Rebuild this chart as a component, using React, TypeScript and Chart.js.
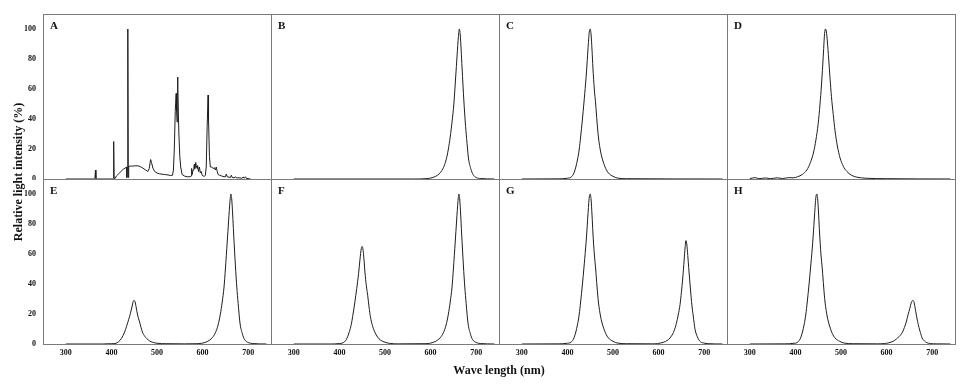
import React, { useEffect, useRef } from "react";
import { Chart, registerables } from "chart.js";

Chart.register(...registerables);

const X_TICKS = [300, 400, 500, 600, 700];
const Y_TICKS = [0, 20, 40, 60, 80, 100];
const X_MIN = 250;
const X_MAX = 750;
const Y_MIN = 0;
const Y_MAX = 110;
const PANEL_LABELS = ["A", "B", "C", "D", "E", "F", "G", "H"];
const Y_TITLE = "Relative light intensity (%)";
const X_TITLE = "Wave length (nm)";

type Pt = [number, number];

const SPEC_A: Pt[] = [
  [300, 0], [362, 0], [364, 0.5], [365, 6], [366, 0.5], [368, 0], [402, 0], [404, 0.5], [405, 25], [406, 0.5],
  [408, 0.3], [411, 2], [416, 3.5], [421, 5], [426, 6.5], [431, 7.5], [433, 8], [434, 1], [435, 8], [436, 100],
  [437, 1], [438, 8.5], [442, 8.6], [447, 8.6], [452, 8.8], [458, 8.8], [463, 8.3], [469, 7.3], [474, 6.2],
  [480, 5], [483, 7], [486, 13], [488, 11], [491, 7.3], [495, 5], [500, 4], [505, 3.5], [511, 3.2], [517, 3],
  [524, 2.7], [530, 2.3], [534, 2.5], [536, 6], [538, 20], [540, 45], [542, 57], [543, 45], [544, 38], [545, 68],
  [546, 60], [548, 30], [550, 15], [552, 8], [555, 3], [560, 2], [566, 1.5], [572, 1.5], [575, 2], [576, 7],
  [577, 3], [579, 6], [581, 8], [582, 10], [583, 7], [585, 11], [586, 9], [588, 7], [589, 9], [591, 5], [593, 8],
  [595, 4], [597, 5], [599, 2.5], [601, 2], [604, 1.8], [606, 2.5], [608, 8], [610, 35], [612, 56], [613, 40],
  [615, 15], [617, 8], [620, 8], [623, 7], [626, 7.5], [628, 6], [630, 8], [632, 5], [634, 3], [637, 2.5],
  [642, 2], [647, 1.5], [650, 1.5], [652, 3.3], [654, 1.5], [658, 1.2], [661, 1], [663, 2.5], [665, 1],
  [669, 0.8], [672, 1.5], [674, 0.7], [680, 0.8], [686, 0.5], [689, 1.3], [691, 0.5], [694, 1.5], [696, 0.4],
  [700, 0.3], [705, 0],
];

const SPEC_B: Pt[] = [
  [300, 0], [560, 0], [590, 0.2], [605, 1], [615, 2.5], [622, 4.5], [628, 7.5], [634, 12.7], [639, 20],
  [643, 28], [647, 38], [651, 50], [655, 68], [658, 82], [661, 95], [663, 100], [665, 96], [667, 86], [669, 74],
  [673, 52], [676, 38], [679, 27], [683, 14], [688, 7], [693, 3], [700, 1], [710, 0.3], [740, 0],
];

const SPEC_C: Pt[] = [
  [300, 0], [380, 0.1], [400, 0.5], [408, 1.2], [415, 4.5], [422, 12.7], [426, 20], [429, 28], [433, 40],
  [436, 50], [440, 64], [442, 72], [445, 86], [448, 98], [450, 100], [452, 96], [454, 86], [456, 74], [459, 60],
  [462, 50], [465, 38], [468, 28], [473, 18], [478, 12], [484, 7], [490, 4], [500, 1.8], [510, 0.6], [530, 0.2],
  [740, 0],
];

const SPEC_D: Pt[] = [
  [300, 0.3], [312, 0.9], [320, 0.2], [335, 0.7], [345, 0.2], [360, 0.8], [372, 0.3], [385, 0.9], [395, 0.8],
  [405, 1.5], [415, 3], [425, 6], [433, 11], [440, 18], [445, 26], [450, 37], [454, 50], [457, 62], [460, 76],
  [462, 87], [464, 97], [466, 100], [468, 98], [470, 92], [473, 80], [476, 67], [479, 55], [483, 43], [487, 32],
  [492, 22], [498, 14], [505, 8.5], [513, 5], [523, 2.5], [535, 1.2], [555, 0.5], [600, 0.2], [740, 0],
];

const SPEC_E: Pt[] = [
  [300, 0], [380, 0], [400, 0.2], [410, 0.5], [415, 1.3], [422, 3.7], [429, 8], [433, 11.5], [436, 14.5],
  [440, 18.5], [443, 22], [446, 26], [448, 28.5], [450, 29], [452, 28], [454, 25], [456, 21.5], [459, 17.5],
  [462, 14.5], [465, 11], [468, 8], [473, 5.2], [478, 3.5], [484, 2], [490, 1.2], [500, 0.5], [520, 0.2],
  [560, 0.1], [590, 0.2], [605, 1], [615, 2.5], [622, 4.5], [628, 7.5], [634, 12.7], [639, 20], [643, 28],
  [647, 38], [650, 50], [654, 68], [657, 82], [660, 95], [662, 100], [664, 96], [666, 86], [668, 74], [672, 52],
  [675, 38], [678, 27], [682, 14], [687, 7], [692, 3], [700, 1], [710, 0.3], [740, 0],
];

const SPEC_F: Pt[] = [
  [300, 0], [380, 0], [400, 0.3], [408, 0.8], [415, 2.9], [422, 8.3], [426, 13], [429, 18.2], [433, 26],
  [436, 32.5], [440, 41.6], [442, 46.8], [445, 56], [448, 63.7], [450, 65], [452, 62.4], [454, 56], [456, 48],
  [459, 39], [462, 32.5], [465, 24.7], [468, 18.2], [473, 11.7], [478, 7.8], [484, 4.5], [490, 2.6], [500, 1.2],
  [510, 0.4], [530, 0.1], [590, 0.2], [605, 1], [615, 2.5], [622, 4.5], [628, 7.5], [634, 12.7], [639, 20],
  [643, 28], [647, 38], [650, 50], [654, 68], [657, 82], [660, 95], [662, 100], [664, 96], [666, 86], [668, 74],
  [672, 52], [675, 38], [678, 27], [682, 14], [687, 7], [692, 3], [700, 1], [710, 0.3], [740, 0],
];

const SPEC_G: Pt[] = [
  [300, 0], [380, 0.1], [400, 0.5], [408, 1.2], [415, 4.5], [422, 12.7], [426, 20], [429, 28], [433, 40],
  [436, 50], [440, 64], [442, 72], [445, 86], [448, 98], [450, 100], [452, 96], [454, 86], [456, 74], [459, 60],
  [462, 50], [465, 38], [468, 28], [473, 18], [478, 12], [484, 7], [490, 4], [500, 1.8], [510, 0.6], [530, 0.2],
  [590, 0.1], [605, 0.7], [615, 1.7], [622, 3.1], [628, 5.2], [634, 8.8], [639, 13.8], [643, 19.3], [647, 26.2],
  [650, 34.5], [653, 44], [656, 56], [658, 64], [660, 69], [662, 66], [664, 59], [666, 51], [670, 36],
  [673, 26], [676, 18.6], [680, 9.7], [685, 4.8], [690, 2], [698, 0.7], [710, 0.2], [740, 0],
];

const SPEC_H: Pt[] = [
  [300, 0], [377, 0.1], [397, 0.5], [405, 1.2], [412, 4.5], [419, 12.7], [423, 20], [426, 28], [430, 40],
  [433, 50], [437, 64], [439, 72], [442, 86], [445, 98], [447, 100], [449, 96], [451, 86], [453, 74], [456, 60],
  [459, 50], [462, 38], [465, 28], [470, 18], [475, 12], [481, 7], [487, 4], [497, 1.8], [507, 0.6], [527, 0.2],
  [580, 0.1], [595, 0.3], [605, 0.8], [612, 1.5], [618, 2.5], [624, 4], [630, 5.8], [635, 8], [639, 11],
  [643, 14.5], [647, 19.5], [651, 23.8], [654, 27.5], [656, 28.7], [658, 29], [660, 28], [662, 25], [664, 21.5],
  [668, 15], [671, 11], [674, 7.8], [678, 4], [683, 2], [688, 0.9], [696, 0.3], [710, 0.1], [740, 0],
];

const SPECTRA: Pt[][] = [SPEC_A, SPEC_B, SPEC_C, SPEC_D, SPEC_E, SPEC_F, SPEC_G, SPEC_H];

// layout (page pixels)
const COL_LEFT = [43, 271, 499, 727];
const ROW_TOP = [14, 179];
const PW = 228;
const PH = 165;
const YW = 36;
const XH = 26;
const FONT = "'Liberation Serif', 'Times New Roman', Times, serif";
const BORDER = "#7a7a7a";
const LINE = "#1e1e1e";

const boxPlugin = {
  id: "panelBox",
  beforeDatasetsDraw(chart: any) {
    const { ctx, chartArea: a } = chart;
    ctx.save();
    ctx.strokeStyle = BORDER;
    ctx.lineWidth = 1;
    ctx.strokeRect(
      Math.round(a.left) + 0.5,
      Math.round(a.top) + 0.5,
      Math.round(a.right - a.left),
      Math.round(a.bottom - a.top)
    );
    ctx.restore();
  },
};

function Panel({ idx }: { idx: number }) {
  const ref = useRef<HTMLCanvasElement | null>(null);
  const col = idx % 4;
  const row = Math.floor(idx / 4);
  const showY = col === 0;
  const showX = row === 1;
  const left = COL_LEFT[col] - (showY ? YW : 0);
  const top = ROW_TOP[row];
  const width = PW + 1 + (showY ? YW : 0);
  const height = PH + (showX ? XH : 1);

  useEffect(() => {
    if (!ref.current) return;
    const pts = SPECTRA[idx].map(([x, y]) => ({ x, y }));
    const chart = new Chart(ref.current, {
      type: "line",
      data: {
        datasets: [
          {
            data: pts,
            borderColor: LINE,
            borderWidth: 1,
            pointRadius: 0,
            fill: false,
            tension: idx === 0 ? 0 : 0.35,
            cubicInterpolationMode: idx === 0 ? "default" : "monotone",
          },
        ],
      },
      options: {
        animation: false,
        responsive: false,
        maintainAspectRatio: false,
        devicePixelRatio: 1,
        layout: { padding: { left: 0, top: 0, right: 1, bottom: showX ? 0 : 1 } },
        plugins: { legend: { display: false }, tooltip: { enabled: false }, title: { display: false } },
        scales: {
          x: {
            type: "linear",
            min: X_MIN,
            max: X_MAX,
            display: showX,
            afterBuildTicks: (s: any) => {
              s.ticks = X_TICKS.map((v) => ({ value: v }));
            },
            afterFit: (s: any) => {
              s.height = showX ? XH : 0;
              s.paddingLeft = 0;
              s.paddingRight = 0;
            },
            grid: { display: false, drawTicks: false },
            border: { display: false },
            ticks: {
              font: { family: FONT, size: 8, weight: "bold" },
              color: "#111",
              padding: 4,
              maxRotation: 0,
              autoSkip: false,
            },
          },
          y: {
            type: "linear",
            min: Y_MIN,
            max: Y_MAX,
            display: showY,
            afterBuildTicks: (s: any) => {
              s.ticks = Y_TICKS.map((v) => ({ value: v }));
            },
            afterFit: (s: any) => {
              s.width = showY ? YW : 0;
              s.paddingTop = 0;
              s.paddingBottom = 0;
            },
            grid: { display: false, drawTicks: false },
            border: { display: false },
            ticks: {
              font: { family: FONT, size: 8, weight: "bold" },
              color: "#111",
              padding: 7,
              autoSkip: false,
            },
          },
        },
      },
      plugins: [boxPlugin],
    } as any);
    return () => chart.destroy();
  }, [idx]);

  return (
    <>
      <canvas
        ref={ref}
        width={width}
        height={height}
        style={{ position: "absolute", left, top, width, height }}
      />
      <div
        style={{
          position: "absolute",
          left: COL_LEFT[col] + 7,
          top: ROW_TOP[row] + 6,
          font: `bold 11px ${FONT}`,
          lineHeight: "11px",
          color: "#111",
        }}
      >
        {PANEL_LABELS[idx]}
      </div>
    </>
  );
}

export default function App() {
  return (
    <div
      style={{
        position: "absolute",
        left: 0,
        top: 0,
        width: 971,
        height: 390,
        background: "#fff",
        overflow: "hidden",
      }}
    >
      {PANEL_LABELS.map((_, i) => (
        <Panel key={i} idx={i} />
      ))}
      <div
        style={{
          position: "absolute",
          left: 18,
          top: 172,
          transform: "translate(-50%, -50%) rotate(-90deg)",
          whiteSpace: "nowrap",
          font: `bold 12px ${FONT}`,
          color: "#111",
        }}
      >
        {Y_TITLE}
      </div>
      <div
        style={{
          position: "absolute",
          left: 499,
          top: 370,
          transform: "translate(-50%, -50%)",
          whiteSpace: "nowrap",
          font: `bold 12px ${FONT}`,
          color: "#111",
        }}
      >
        {X_TITLE}
      </div>
    </div>
  );
}
